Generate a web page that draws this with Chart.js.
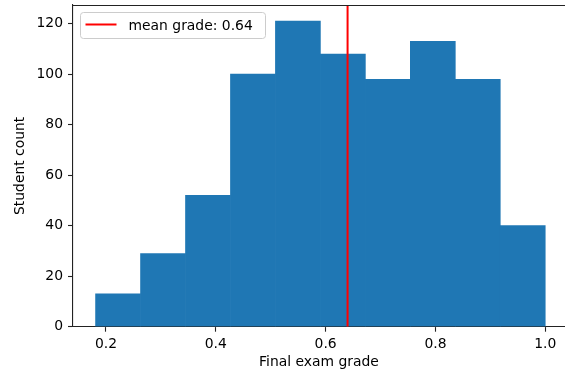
<!DOCTYPE html>
<html>
<head>
<meta charset="utf-8">
<script src="https://cdn.jsdelivr.net/npm/chart.js@4.4.1/dist/chart.umd.min.js"></script>
<style>
  html, body { margin: 0; padding: 0; background: #fff; }
  canvas { display: block; }
</style>
</head>
<body>
<canvas id="histChart" width="565" height="373"></canvas>
<script>
// bin edges and counts
const binEdges = [0.181, 0.2629, 0.3448, 0.4267, 0.5086, 0.5905, 0.6724, 0.7543, 0.8362, 0.9181, 1.0];
const binCounts = [13, 29, 52, 100, 121, 108, 98, 113, 98, 40];
const meanGrade = 0.64;
const xTicks = [0.2, 0.4, 0.6, 0.8, 1.0];
const yTicks = [0, 20, 40, 60, 80, 100, 120];
const xRange = [0.1399, 1.036];
const yRange = [0, 127.4];

const FONT = 'DejaVu Sans';

const barData = binCounts.map((c, i) => ({ x: (binEdges[i] + binEdges[i + 1]) / 2, y: c }));

// matplotlib style legend box inside the plot + top spine
const insideLegend = {
    id: 'insideLegend',
    afterDraw(chart) {
        const ctx = chart.ctx;
        const area = chart.chartArea;
        ctx.save();
        // top spine
        ctx.strokeStyle = '#222';
        ctx.lineWidth = 1.1;
        ctx.beginPath();
        ctx.moveTo(area.left, area.top + 0.5);
        ctx.lineTo(area.right, area.top + 0.5);
        ctx.stroke();

        // legend box
        const bx = 80.5, by = 12.5, bw = 185, bh = 26, r = 3;
        ctx.beginPath();
        ctx.moveTo(bx + r, by);
        ctx.lineTo(bx + bw - r, by);
        ctx.quadraticCurveTo(bx + bw, by, bx + bw, by + r);
        ctx.lineTo(bx + bw, by + bh - r);
        ctx.quadraticCurveTo(bx + bw, by + bh, bx + bw - r, by + bh);
        ctx.lineTo(bx + r, by + bh);
        ctx.quadraticCurveTo(bx, by + bh, bx, by + bh - r);
        ctx.lineTo(bx, by + r);
        ctx.quadraticCurveTo(bx, by, bx + r, by);
        ctx.closePath();
        ctx.fillStyle = 'rgba(255,255,255,0.8)';
        ctx.fill();
        ctx.strokeStyle = '#cccccc';
        ctx.lineWidth = 1;
        ctx.stroke();

        const ds = chart.data.datasets[1];
        ctx.strokeStyle = ds.borderColor;
        ctx.lineWidth = 2;
        ctx.beginPath();
        ctx.moveTo(85.5, 24.5);
        ctx.lineTo(116.5, 24.5);
        ctx.stroke();

        ctx.fillStyle = '#000';
        ctx.font = '13.9px "' + FONT + '"';
        ctx.textBaseline = 'alphabetic';
        ctx.textAlign = 'left';
        ctx.fillText(ds.label, 128.5, 30);
        ctx.restore();
    }
};

const ctx = document.getElementById('histChart').getContext('2d');
const chart = new Chart(ctx, {
    type: 'bar',
    data: {
        datasets: [
            {
                type: 'bar',
                label: 'counts',
                data: barData,
                backgroundColor: '#1f77b4',
                borderWidth: 0,
                barPercentage: 1.0,
                categoryPercentage: 1.0,
                order: 2
            },
            {
                type: 'line',
                label: 'mean grade: ' + meanGrade.toFixed(2),
                data: [{ x: meanGrade, y: yRange[0] }, { x: meanGrade, y: yRange[1] }],
                borderColor: '#ff0000',
                borderWidth: 2,
                pointRadius: 0,
                fill: false,
                order: 1
            }
        ]
    },
    plugins: [insideLegend],
    options: {
        responsive: false,
        animation: false,
        devicePixelRatio: 1,
        layout: { padding: { top: 5, right: 0, left: 0, bottom: 0 } },
        plugins: {
            legend: { display: false },
            tooltip: { enabled: false }
        },
        scales: {
            x: {
                type: 'linear',
                min: xRange[0],
                max: xRange[1],
                offset: false,
                afterBuildTicks: s => { s.ticks = xTicks.map(v => ({ value: v })); },
                afterFit: s => { s.height = 46.3; s.paddingLeft = 0; s.paddingRight = 0; },
                grid: { display: true, drawOnChartArea: false, offset: false, tickLength: 5, color: '#222', tickWidth: 1.1 },
                border: { display: true, color: '#222', width: 1.1 },
                ticks: {
                    color: '#000',
                    padding: 4,
                    maxRotation: 0,
                    font: { family: FONT, size: 13.9 },
                    callback: v => v.toFixed(1)
                },
                title: {
                    display: true,
                    text: 'Final exam grade',
                    color: '#000',
                    font: { family: FONT, size: 13.9 },
                    padding: { top: 0, bottom: 2 }
                }
            },
            y: {
                type: 'linear',
                min: yRange[0],
                max: yRange[1],
                afterBuildTicks: s => { s.ticks = yTicks.map(v => ({ value: v })); },
                afterFit: s => { s.width = 73; s.paddingTop = 0; s.paddingBottom = 0; },
                grid: { display: true, drawOnChartArea: false, tickLength: 5, color: '#222', tickWidth: 1.1 },
                border: { display: true, color: '#222', width: 1.1 },
                ticks: {
                    color: '#000',
                    padding: 5,
                    font: { family: FONT, size: 13.9 },
                    callback: v => String(v)
                },
                title: {
                    display: true,
                    text: 'Student count',
                    color: '#000',
                    font: { family: FONT, size: 13.9 },
                    padding: { top: 12, bottom: 0 }
                }
            }
        }
    }
});
</script>
</body>
</html>
